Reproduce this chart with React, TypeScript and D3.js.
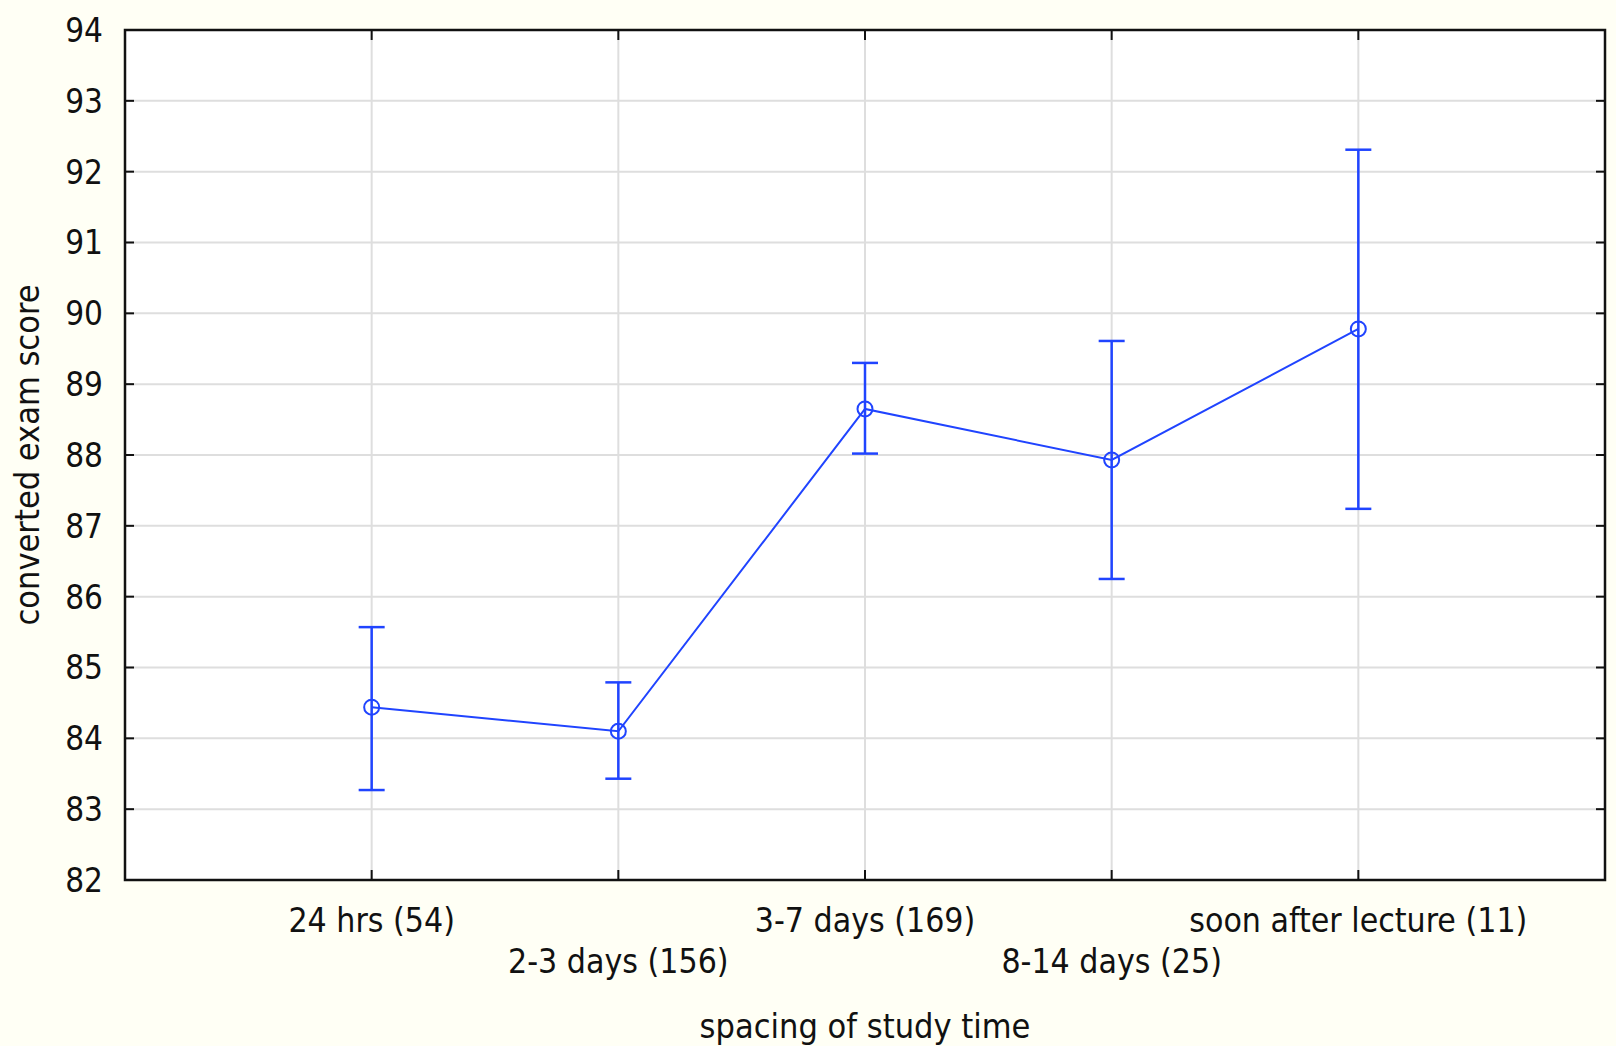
import React, { useEffect, useRef } from "react";
import * as d3 from "d3";

const categories = [
  "24 hrs (54)",
  "2-3 days (156)",
  "3-7 days (169)",
  "8-14 days (25)",
  "soon after lecture (11)",
];
const means = [84.44, 84.1, 88.65, 87.93, 89.78];
const upper = [85.57, 84.79, 89.3, 89.61, 92.31];
const lower = [83.27, 83.43, 88.02, 86.25, 87.24];
const yTicks = [82, 83, 84, 85, 86, 87, 88, 89, 90, 91, 92, 93, 94];
const xTitle = "spacing of study time";
const yTitle = "converted exam score";

const W = 1616;
const H = 1046;
const M = { left: 125, top: 30, right: 1605, bottom: 880 };
const FONT = "'Liberation Sans Narrow', 'DejaVu Sans Condensed', 'Liberation Sans', sans-serif";
const BLUE = "#2044ff";

export default function App() {
  const ref = useRef<SVGSVGElement>(null);
  useEffect(() => {
    const svg = d3.select(ref.current);
    svg.selectAll("*").remove();
    svg.append("rect").attr("width", W).attr("height", H).attr("fill", "#fffff5");
    svg
      .append("rect")
      .attr("x", M.left)
      .attr("y", M.top)
      .attr("width", M.right - M.left)
      .attr("height", M.bottom - M.top)
      .attr("fill", "#ffffff");

    const x = d3.scalePoint<string>().domain(categories).range([M.left, M.right]).padding(1);
    const y = d3.scaleLinear().domain([82, 94]).range([M.bottom, M.top]);

    // grid
    const g = svg.append("g");
    yTicks.forEach((t) => {
      g.append("line")
        .attr("x1", M.left).attr("x2", M.right)
        .attr("y1", y(t)).attr("y2", y(t))
        .attr("stroke", "#dedede").attr("stroke-width", 2);
    });
    categories.forEach((c) => {
      g.append("line")
        .attr("x1", x(c)!).attr("x2", x(c)!)
        .attr("y1", M.top).attr("y2", M.bottom)
        .attr("stroke", "#dedede").attr("stroke-width", 2);
    });

    // ticks (inward)
    const tk = svg.append("g").attr("stroke", "#111").attr("stroke-width", 2);
    yTicks.forEach((t) => {
      tk.append("line").attr("x1", M.left).attr("x2", M.left + 9).attr("y1", y(t)).attr("y2", y(t));
      tk.append("line").attr("x1", M.right).attr("x2", M.right - 9).attr("y1", y(t)).attr("y2", y(t));
    });
    categories.forEach((c) => {
      tk.append("line").attr("x1", x(c)!).attr("x2", x(c)!).attr("y1", M.bottom).attr("y2", M.bottom - 10);
      tk.append("line").attr("x1", x(c)!).attr("x2", x(c)!).attr("y1", M.top).attr("y2", M.top + 10);
    });

    // frame
    svg.append("rect")
      .attr("x", M.left).attr("y", M.top)
      .attr("width", M.right - M.left).attr("height", M.bottom - M.top)
      .attr("fill", "none").attr("stroke", "#111").attr("stroke-width", 2.5);

    // y labels
    yTicks.forEach((t) => {
      svg.append("text")
        .attr("x", 103).attr("y", y(t))
        .attr("dy", "0.36em")
        .attr("text-anchor", "end")
        .attr("font-family", FONT).attr("font-size", 33).attr("fill", "#111")
        .text(String(t));
    });

    // x labels, staggered
    categories.forEach((c, i) => {
      svg.append("text")
        .attr("x", x(c)!).attr("y", i % 2 === 0 ? 932 : 973)
        .attr("text-anchor", "middle")
        .attr("font-family", FONT).attr("font-size", 33.5).attr("fill", "#111")
        .text(c);
    });

    svg.append("text")
      .attr("x", (M.left + M.right) / 2).attr("y", 1038)
      .attr("text-anchor", "middle")
      .attr("font-family", FONT).attr("font-size", 34).attr("fill", "#111")
      .text(xTitle);

    svg.append("text")
      .attr("transform", `translate(39, ${(M.top + M.bottom) / 2}) rotate(-90)`)
      .attr("text-anchor", "middle")
      .attr("font-family", FONT).attr("font-size", 34).attr("fill", "#111")
      .text(yTitle);

    // error bars
    const eb = svg.append("g").attr("stroke", BLUE).attr("stroke-width", 2.5).attr("fill", "none");
    categories.forEach((c, i) => {
      const cx = x(c)!;
      eb.append("line").attr("x1", cx).attr("x2", cx).attr("y1", y(upper[i])).attr("y2", y(lower[i]));
      eb.append("line").attr("x1", cx - 13).attr("x2", cx + 13).attr("y1", y(upper[i])).attr("y2", y(upper[i]));
      eb.append("line").attr("x1", cx - 13).attr("x2", cx + 13).attr("y1", y(lower[i])).attr("y2", y(lower[i]));
    });

    const line = d3.line<number>().x((_, i) => x(categories[i])!).y((d) => y(d));
    svg.append("path").attr("d", line(means)!).attr("fill", "none").attr("stroke", BLUE).attr("stroke-width", 2);

    means.forEach((m, i) => {
      svg.append("circle")
        .attr("cx", x(categories[i])!).attr("cy", y(m)).attr("r", 7.5)
        .attr("fill", "none").attr("stroke", BLUE).attr("stroke-width", 2);
    });
  }, []);
  return <svg ref={ref} width={W} height={H} style={{ display: "block", position: "absolute", left: 0, top: 0 }} />;
}
